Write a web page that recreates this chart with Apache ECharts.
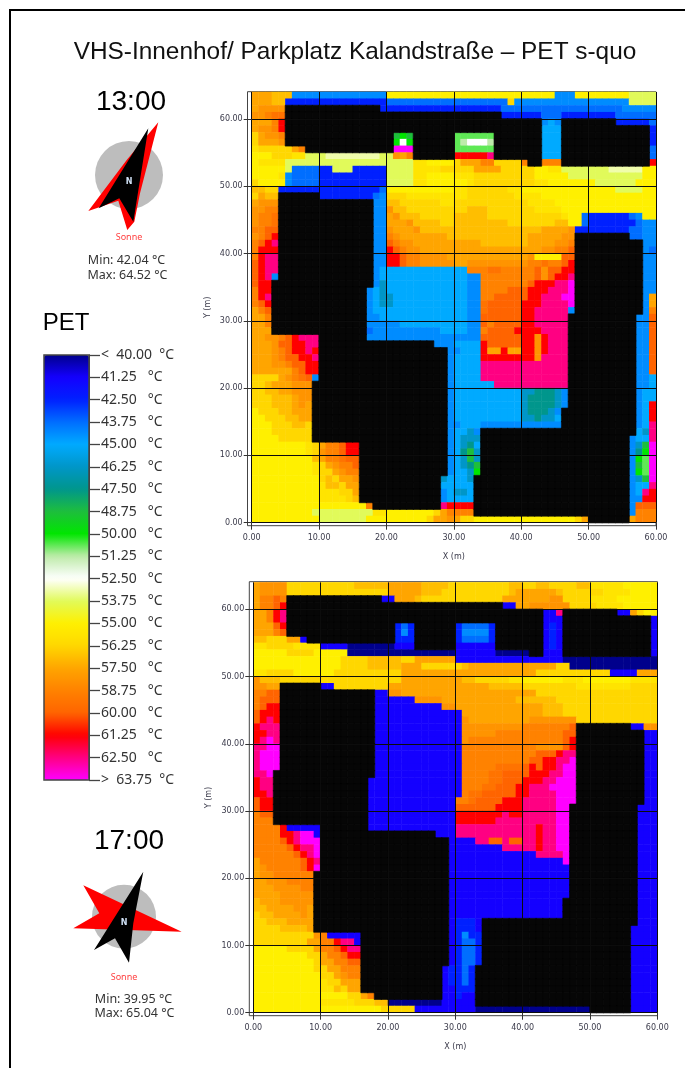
<!DOCTYPE html>
<html><head><meta charset="utf-8">
<style>html,body{margin:0;padding:0;background:#fff}#c{width:685px;height:1068px}</style>
<script src="https://cdn.jsdelivr.net/npm/echarts@6/dist/echarts.min.js"></script>
</head><body><div id="c"></div>
<script>
// PET level codes: a=40.00 b=41.25 ... t=63.75; a capital letter is half a step higher; # = building
const levelCodes = 'abcdefghijklmnopqrst';
const legendTicks = [40,41.25,42.5,43.75,45,46.25,47.5,48.75,50,51.25,52.5,53.75,55,56.25,57.5,58.75,60,61.25,62.5,63.75];
const legendColors = ['#00008c','#1400ff','#0020ff','#006eff','#00aaff','#0096c8','#00968c','#1ebe3c','#00e600','#beebaa','#ffffff','#e1fa5a','#fff000','#ffd700','#ffa500','#ff8200','#ff6400','#ff0000','#ff0082','#ff00ff'];
const yTickValues = [0,10,20,30,40,50,60];

// 13:00, top row (y 63) to bottom row (y 0), blocks of ten columns
const pet1300 = [
"oooNNNDDDD DDDDDDDDDD mmmmmmmmmm mmmmmmmmmm mmmmmDDDmm mmmmmmllll",
"oooNNccccc cccccccccc dddddddddd ddddddddnD DDDDDDDDDD DDDDDDllll",
"oOOOO##### #########c cccccccccc cccccccddd dddddddddd dddddDDDDD",
"OOpPP##### ########## ########## #######ccc cccdddcccc ccccdddddd",
"ooopr##### ########## ########## ########## ###DeD#### ####cccccd",
"oOOpr##### ########## ########## ########## ###eee#### #########c",
"noOOp##### ########## #hih###### IIIIII#### ###eee#### #########c",
"noooO##### ########## #iki###### Ijkkkj#### ###eee#### #########c",
"Mnnnnnop## ########## #ttt###### IIIIII#### ###eee#### #########d",
"mmmnnnMMll lKKKKKKKKl lOop###### rrrrrs#### ###eee#### #########d",
"mMMMMlllll llllllllll llllMMmmmm noooppnnnn p##ppp#### #########r",
"mmmmmldddd cclllccccc llllMMMMnn nnnoooonnn nnmmMMllll lllKKKKKmm",
"mmmmMDdddd cccccccccc llllMMmmmm MMMnnnnnnn nnmmmmmlll llllllllmm",
"nmmmmDdddd cccccccccc llllMMmmmm mmMnnnnnnn nnMMmmmmmm mllllllmmm",
"NNnncccccc cccccccccd mmmmmmmmmm MMnnnnnnMM mmmmmmmmmm mmmmllllmm",
"noNN###### ccccccccdD nnnMMMMMMM MMnnnnnnnM MMMmmmmmmm mmmmmmmmmm",
"oOOO###### ########DD NNnnnnnnMM nnnnnnnnnn nMMMMmmmmm mmmmmmmmmm",
"OOpp###### ########DD ONNnnnnnnn nnNNNnnnnn nnMMMMmmmm mmmmmmmmmm",
"OppP###### ########DD oONNNnnnnn NNNNNnnnnn nnnnnnMmmd ccccccdDmm",
"OppP###### ########DD oooONNNNnn NNNNNNNNnn nnnnnNNmmd cccccccdDD",
"ppqq###### ########DD OoooONNNNN NNNNNNNNNN NNNooooOcc ccccccddDD",
"Opqr###### ########DD pOoooooooN NNNNNNNNNN NoooooOO## ######ddDD",
"pqrs###### ########DD qpOOoooooo ooooNNNNNN NooooOOp## ########DD",
"prrr###### ########DD rqpOOooooo oooooooooo oooOOppq## ########Dd",
"prss###### ########DD rrqppOOOOo oooooooooo oOmmmmqq## ########DD",
"qrss###### ########DD rrqppOOOOO ooOOOOOOOO OppPppqr## ########DD",
"qrss###### ########De eeeeeeeeee eepppPPppp ppqOqqrr## ########DD",
"qrsD###### ########De eeeeeeeeee eeDDpppppp ppqOqrrs## ########DD",
"qrr####### ########Df eeeeeeeeee eeDDpppppp pqrrrsst## ########DD",
"prr####### #######Def eeeeeeeeee eeDDppppqq qrrrssst## ########DD",
"prs####### #######Def feeeeeeeee eeDDppqqqq qrrssstt## ########Do",
"pqr####### #######Def feeeeeeeee eeDDPqqqqq rrrsssst## ########Do",
"opq####### #######Dee eeeeeeeeee eeDDPqqqqq rrsssssD## ########Dp",
"oop####### #######DDe eeeeeeeeee eeDDqqqqqq rrsssss### #######DDq",
"oop####### #######DDD DDeeeeeeee eeDDqpqqqq rrsssss### #######DDq",
"ooo####### #######dDD DDDDDDDDee eeDDpqqqqr rrrssss### #######DDq",
"ooOOpqrsss #######DDD DDDDDDDDDD DDDDqqqqqq rrOrsss### #######DDq",
"oooOqqrrss ########## #######DDD eeeerqqqqq rrOrsss### #######DDq",
"oooOpqrrsr ########## #########D Deeerooroo rrOrsss### #######DDq",
"oooOpqqrrs ########## #########D eeeerrrrrr rrOssss### #######DDq",
"oooOOpqqrr ########## #########D eeeessssss sssssss### #######DDq",
"oooooopqrr ########## #########D eeeessssss sssssss### #######DDq",
"nnnnoOpPqD ########## #########D eeeessssss sssssss### #######DDe",
"nnNoooOOO# ########## #########D eeeeeessss sssssss### #######DDe",
"nnNNooOOO# ########## #########D eeeeeeeeee ffgggfD### #######Dee",
"nnnNNNoOO# ########## #########D eeeeeeeeee fggggfD### #######Dee",
"nnnNNNoOo# ########## #########D eeeeeeeeee fggggfD### #######Der",
"mnnnNNooo# ########## #########D eeeeeeeeee fgggfD#### #######Der",
"mmnnnNNoo# ########## #########D eeeeeeeeee ffgffe#### #######Der",
"mmmnnnNNn# ########## #########D DeeeDDDDDD DDDDDD#### #######Des",
"mmmnnnnnn# ########## #########D eefD###### ########## #######efs",
"mmmmnnnnn# ########## #########D efff###### ########## ######Dees",
"mmmmmmmmMn oppqrr#### #########D efge###### ########## ######Dfht",
"mmmmmmmmMn Oppqrr#### #########D eghf###### ########## ######Dgit",
"mmmmmmmmmN oppPqq#### #########D efhf###### ########## ######DiIt",
"mmmmmmmmmM noOppq#### #########D efgh###### ########## ######DhIt",
"mmmmmmmmmM nnoOpp#### #########D eefi###### ########## ######DiIt",
"mmmmmmmmmm nNnooO#### ########fe eef####### ########## ######Dfht",
"mmmmmmmmmm MNNnoo#### ########ee eee####### ########## ######Dees",
"mmmmmmmmmm MMMnno#### ########De ffe####### ########## ######Desr",
"mmmmmmmmmm MMMMnN#### ########De eee####### ########## ######DDrr",
"mmmmmmmmmm mmmmmmmp## ########sr rrr####### ########## ######Dqqq",
"mmmmmmmmml llllllllMM mmmmmmmnop ppp####### ########## ######Dppp",
"mmmmmmmmmm lllllllmmm mmmmmmnooO onnmmmmmmm mmmmmmmmno ######oppp"
];

// 17:00, top row (y 63) to bottom row (y 0)
const pet1700 = [
"oOOOOnnnnn nnnnnNNNNN oooooNNNNn nnnnnnnnNN nnNNnnnnNN MMMMMmmmmm",
"oOOOOnnnnn nnnnnnnnnn oooooNNNnn nnnnnnnnNo oooooNnnnn nnMMMMmmmm",
"oppqp##### #########b boooNnnnnn nnnnnnnooo ooooOOnnnn MMMMmmmmmm",
"oppqr##### ########## ########## #######bbo oOOOOOOnnn nMMMMmmmmm",
"ooprs##### ########## ########## ########## ###bbs#### ####bbonmm",
"ooprs##### ########## ########## ########## ###bbb#### #########b",
"oooqr##### ########## #cdc###### cddddc#### ###bcb#### #########b",
"ooopq##### ########## #cDc###### cDDDDc#### ###bcb#### #########b",
"NNnnnoob## ########## #ccc###### cddddc#### ###bcb#### #########b",
"MMnnnnMMMM bbbbaaaaaa abbb###### bbbbbb#### ###bcb#### #########b",
"mmmmmnnnnm mmmmaaaaaa aaaaaaaaaa bbbbbbaaaa a##bbb#### #########b",
"mmmmmmmmmm mmmnnnnNNN NNnnoooooo bbbbbbbbbb bbbbbbaaaa aaaaaaaaaa",
"mmmmmmmmmm mmmnnnnNNN NNooonnnnn nNoooooooo ooooonnaaa aaaaaaaaaa",
"MMnnnnmmmm mmnnnnnnnn nnoooooooo oooooooooo oonnnnnnnn nnnbbbbooo",
"ONNNnnnnnn nnnnnnnnnn nnoooooooo oNNnnnnnMM mmmmmmMMMm mmmmmmMMMM",
"OOoo###### bbnnnnnnnn oooooooooo oooooNNNNN nnnnnnnnMM MMMMMMnnnn",
"ppqq###### ########bb OOoooooooo oooooooooo oonnnnnnnn nnnnnnnnnn",
"pqqq###### ########bb bbbbOOOOoo oooooooooN NNNNNnnnnn nnnnnnnnnn",
"pqrr###### ########bb bbbbbbbbOO oooooooooo oooNNNnnnn nnnnnnnnnn",
"qrrr###### ########bb bbbbbbbbbb booooooooo oooNNNnnnn nnnnnnnnnn",
"qrsr###### ########bb bbbbbbbbbb bOoooooooo oOOOOOOOnn nnnnnnnnnn",
"rsss###### ########bb bbbbbbbbbb bOOOOOOOOO pppppppq## ######bbOO",
"rrss###### ########bb bbbbbbbbbb bOOOOOpppp ppppppqq## ########bb",
"rsts###### ########bb bbbbbbbbbb bOpppppppp ppppppqr## ########bb",
"sstt###### ########bb bbbbbbbbbb bppppppppp ppOOOOqr## ########bb",
"sttt###### ########bb bbbbbbbbbb bppppppppp ppqqqrss## ########bb",
"sttt###### ########bb bbbbbbbbbb bppppppppp pqqrrsst## ########bb",
"sttt###### ########bb bbbbbbbbbb bpppppPPPP qrqrrstt## ########bb",
"sst####### ########bb bbbbbbbbbb bppppPPqqq qrrrsstt## ########bb",
"rss####### #######bbb bbbbbbbbbb bppppPPqqq rrrssttt## ########bb",
"rss####### #######bbb bbbbbbbbbb bpppPPqqqr rssstttt## ########bb",
"rrs####### #######bbb bbbbbbbbbb bpPPqqqqqr rssssttt## ########bb",
"qrr####### #######bbb bbbbbbbbbb ppPqqqqrrr sssssttt## ########bb",
"qrr####### #######bbb bbbbbbbbbb qqqqqqrrrr ssssstt### #######bbb",
"pqq####### #######bbb bbbbbbbbbb rrrrrrrsrr ssssstt### #######bbb",
"ppp####### #######bbb bbbbbbbbbb rrrrrrssss ssssstt### #######bbb",
"pppprbbbbb #######bbb bbbbbbbbbb ssssssssss ssrsstt### #######bbb",
"pppprrsttb ########## #######bbb ssssssssss ssrsstt### #######bbb",
"ppppqrsttt ########## #########b bbbssqqsqq ssrsstt### #######bbb",
"pppppqrsst ########## #########b bbbbbbbsss ssrsstt### #######bbb",
"ppppppqrst ########## #########b bbbbbbbbbb bbsssst### #######bbb",
"oppppppqrs ########## #########b bbbbbbbbbb bbbbbbt### #######bbb",
"oOpppppqrt ########## #########b bbbbbbbbbb bbbbbbb### #######bbb",
"oOOpppppp# ########## #########b bbbbbbbbbb bbbbbbb### #######bbb",
"ooOOOpppp# ########## #########b bbbbbbbbbb bbbbbbb### #######bbb",
"oooOOOOpp# ########## #########b bbbbbbbbbb bbbbbbb### #######bbb",
"ooooOOOOO# ########## #########b bbbbbbbbbb bbbbbbb### #######bbb",
"NoooOOOOO# ########## #########b bbbbbbbbbb bbbbbb#### #######bbb",
"NNooooOOo# ########## #########b bbbbbbbbbb bbbbbb#### #######bbb",
"nNNooooOo# ########## #########b bbbbbbbbbb bbbbbb#### #######bbb",
"nnNNNoooo# ########## #########b cccb###### ########## #######bbb",
"nnnnNNNNo# ########## #########b cccb###### ########## ######bbbb",
"nnnnnnnnnO pbbbbb#### #########b cDcc###### ########## ######bbbb",
"nnnnnnnnoo pprssb#### #########b cddc###### ########## ######bbbb",
"mmmmmnnnno ppqrss#### #########b cddc###### ########## ######bbbb",
"mmmmmmmmnn oppqrr#### #########b cddc###### ########## ######bbbb",
"mmmmmmmmmn ooppqq#### #########b cddc###### ########## ######bbbb",
"mmmmmmmmmn nooppp#### ########bc cdc####### ########## ######bbbb",
"mmmmmmmmmm nnoOpp#### ########bc cdc####### ########## ######bbbb",
"mmmmmmmmmm Mnnooo#### ########bc cdc####### ########## ######bbbb",
"mmmmmmmmmm MMNnoo#### ########bb ccc####### ########## ######bbbb",
"mmmmmmmmmm mmmmnnop## ########bb cbb####### ########## ######bbbb",
"mmmmmmmmmm MMMMMnnnNN aaaaaaaabb bbb####### ########## ######bbbb",
"mmmmmmmmmm mmmmmmmmmn nnnnbbbbbb bbbaaaaaaa aaaaaaaaaa ######bbbb"
];

function decode(rows){
  const cells=[],buildings=[];
  rows.forEach((row,r)=>{
    const chars=row.replace(/ /g,'');
    for(let x=0;x<60;x++){
      const ch=chars[x];
      if(ch==='#'||ch===undefined){buildings.push([x,63-r,1]);continue;}
      const i=levelCodes.indexOf(ch.toLowerCase());
      cells.push([x,63-r,legendTicks[i]+(ch!==ch.toLowerCase()?0.625:0)]);
    }
  });
  return {cells,buildings};
}
const d1300=decode(pet1300),d1700=decode(pet1700);
const cols=Array.from({length:60},(_,i)=>i);
const lines=Array.from({length:64},(_,i)=>i);
const tickFont={fontFamily:'DejaVu Sans',fontSize:8,color:'#3a3a4a'};
const fmt=v=>v.toFixed(2);
const gridLine={show:true,lineStyle:{color:'#0c0c0c',width:1}};

function xVal(i){return {type:'value',gridIndex:i,min:0,max:60,interval:10,position:'bottom',z:5,
  axisLine:{show:false,onZero:false},axisTick:{show:true,length:7,lineStyle:{color:'#333'}},
  axisLabel:Object.assign({margin:11,formatter:fmt,showMinLabel:true,showMaxLabel:true,hideOverlap:false},tickFont),
  splitLine:gridLine,name:'X (m)',nameLocation:'middle',nameGap:30,nameTextStyle:tickFont};}
function yVal(i){return {type:'value',gridIndex:i,min:0,max:64,position:'left',z:5,
  axisLine:{show:false,onZero:false},axisTick:{show:true,length:8,lineStyle:{color:'#333'},customValues:yTickValues},
  axisLabel:Object.assign({margin:9,formatter:fmt,showMinLabel:true,customValues:yTickValues},tickFont),
  splitLine:gridLine,name:'Y (m)',nameLocation:'middle',nameGap:40,nameMoveOverlap:false,nameRotate:90,nameTextStyle:tickFont};}
const hid=(i,d)=>({type:'category',gridIndex:i,data:d,show:false,position:'bottom'});

const grey='#bdbdbd',red='#ff0000',black='#000';
const txt=(t,x,y,size,fill,fam,w)=>({type:'text',z:20,style:{text:t,x:x,y:y,fill:fill||'#000',align:'center',verticalAlign:'middle',
  font:(w||'normal')+' '+size+'px '+(fam||'"Liberation Sans"')}});
const poly=(pts,fill,z)=>({type:'polygon',z:z,shape:{points:pts},style:{fill:fill}});
const frame=(x,y,w,h)=>({type:'rect',z:1,shape:{x:x,y:y,width:w,height:h},style:{fill:'none',stroke:'#444',lineWidth:1}});
const heat=(xi,yi,data,border)=>({type:'heatmap',xAxisIndex:xi,yAxisIndex:yi,data:data,
  itemStyle:border?{borderWidth:0.6,borderColor:'#060606'}:{borderWidth:0},emphasis:{disabled:true},progressive:0});

const option={
  animation:false,backgroundColor:'#fff',
  grid:[
    {left:251.7,top:92,width:404.3,height:430.7},
    {left:253.3,top:582.4,width:404,height:430.3},
    {left:44,top:355,width:45,height:425,show:true,borderColor:'#444',borderWidth:1.5,backgroundColor:'transparent',z:6}
  ],
  xAxis:[hid(0,cols),xVal(0),hid(1,cols),xVal(1),{type:'value',gridIndex:2,show:false}],
  yAxis:[hid(0,lines),yVal(0),hid(1,lines),yVal(1),
    {type:'value',gridIndex:2,inverse:true,min:40,max:63.75,interval:1.25,position:'right',z:6,
     axisLine:{show:true,onZero:false,lineStyle:{color:'#444',width:1}},
     axisTick:{show:true,length:11,lineStyle:{color:'#444',width:1.3}},splitLine:{show:false},
     axisLabel:{margin:12,fontFamily:'Noto Sans',fontSize:14,color:'#333',showMinLabel:true,showMaxLabel:true,hideOverlap:false,
       formatter:v=>v===40?'<  40.00  °C':(v===63.75?'>  63.75  °C':v.toFixed(2)+'   °C')}}],
  visualMap:[
    {type:'continuous',seriesIndex:[0,1],dimension:2,min:40,max:63.75,left:44,top:355,itemWidth:45,itemHeight:425,padding:0,
     inverse:true,calculable:false,text:null,hoverLink:false,orient:'vertical',inRange:{color:legendColors},z:4},
    {type:'continuous',seriesIndex:[2,3],dimension:2,min:0,max:1,show:false,inRange:{color:['#060606','#060606']}}
  ],
  series:[heat(0,0,d1300.cells),heat(2,2,d1700.cells),heat(0,0,d1300.buildings,true),heat(2,2,d1700.buildings,true)],
  graphic:{elements:[
    {type:'rect',z:30,shape:{x:9,y:9,width:2,height:1059},style:{fill:'#000'}},
    {type:'rect',z:30,shape:{x:9,y:9,width:676,height:2},style:{fill:'#000'}},
    frame(247.5,91.7,408.5,434),frame(249.3,581.7,408.2,434),
    txt('VHS-Innenhof/ Parkplatz Kalandstraße – PET s-quo',355,52,24.4,'#111'),
    txt('13:00',131,102,28),txt('17:00',129,841,28),txt('PET',66,323,24),
    {type:'circle',z:10,shape:{cx:129,cy:175,r:34},style:{fill:grey}},
    poly([[158.3,122.3],[140,193.3],[134.3,221.7],[127.3,230],[118.3,200.7],[88.3,211],[126.7,160]],red,11),
    poly([[148.3,128.3],[133.3,221.7],[119.3,198.3],[98.7,208.3]],black,12),
    txt('N',129,182,8,'#cfe0f5','"DejaVu Sans"','bold'),
    txt('Sonne',129,237,9,'#ff4040','"Noto Sans"'),
    txt('Min: 42.04 °C',126.5,260,12.5,'#333','"Noto Sans"'),
    txt('Max: 64.52 °C',127.5,275,12.5,'#333','"Noto Sans"'),
    {type:'circle',z:10,shape:{cx:124,cy:916.7,r:32},style:{fill:grey}},
    poly([[83.3,885.3],[181.7,931.7],[73.3,928.3],[99.3,913.3]],red,11),
    poly([[143.3,871.7],[133.3,923.3],[129,962.7],[115,938.3],[94,950]],black,12),
    txt('N',124,923,8,'#cfe0f5','"DejaVu Sans"','bold'),
    txt('Sonne',124,977,9,'#ff4040','"Noto Sans"'),
    txt('Min: 39.95 °C',133.5,999,12.5,'#333','"Noto Sans"'),
    txt('Max: 65.04 °C',134.5,1013,12.5,'#333','"Noto Sans"')
  ]}
};
const chart=echarts.init(document.getElementById('c'),null,{renderer:'canvas'});
chart.setOption(option);
</script></body></html>
